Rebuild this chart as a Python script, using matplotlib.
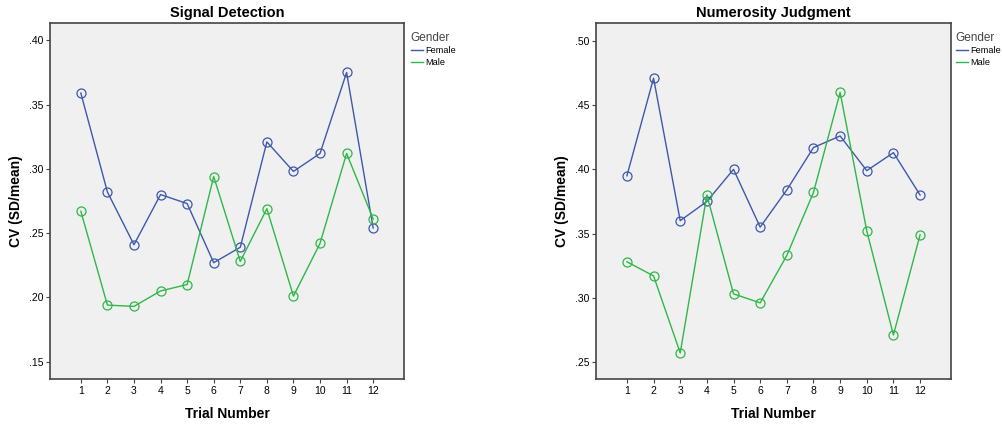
"""Coefficient of variation per trial, by gender, for two tasks."""

import matplotlib

matplotlib.use("Agg")
import matplotlib.pyplot as plt
from matplotlib.ticker import FuncFormatter

plt.rcParams["font.family"] = ["Liberation Sans", "DejaVu Sans"]

trials = list(range(1, 13))

signal_female = [0.359, 0.282, 0.241, 0.280, 0.273, 0.227, 0.239, 0.321, 0.298, 0.312, 0.375, 0.254]
signal_male = [0.267, 0.194, 0.193, 0.205, 0.210, 0.294, 0.228, 0.269, 0.201, 0.242, 0.312, 0.261]

numer_female = [0.395, 0.471, 0.360, 0.375, 0.400, 0.355, 0.384, 0.417, 0.426, 0.399, 0.413, 0.380]
numer_male = [0.328, 0.317, 0.257, 0.380, 0.303, 0.296, 0.333, 0.382, 0.460, 0.352, 0.271, 0.349]

BLUE = "#3e58ac"
GREEN = "#2eb848"
W, H = 1002, 425


def spss_fmt(v, _pos):
    return f"{v:.2f}".lstrip("0")


def panel(rect, title, female, male, yticks, ylim, legend_xy):
    ax = fig.add_axes(rect)
    ax.set_facecolor("#f0f0f0")
    for label, vals, color in [("Female", female, BLUE), ("Male", male, GREEN)]:
        ax.plot(trials, vals, color=color, lw=1.0, label=label)
        ax.plot(trials, vals, ls="none", marker="o", ms=6.5, mfc="none",
                mec=color, mew=0.9)
    ax.set_xlim(-0.16, 13.16)
    ax.set_ylim(*ylim)
    ax.set_xticks(trials)
    ax.set_yticks(yticks)
    ax.yaxis.set_major_formatter(FuncFormatter(spss_fmt))
    ax.tick_params(labelsize=7.5, length=3, width=0.8, color="#444444", pad=2)
    for s in ax.spines.values():
        s.set_color("#444444")
        s.set_linewidth(1.2)
    ax.set_title(title, fontsize=10.5, fontweight="bold", pad=4)
    ax.set_xlabel("Trial Number", fontsize=10, fontweight="bold", labelpad=8)
    ax.set_ylabel("CV (SD/mean)", fontsize=10, fontweight="bold", labelpad=4)
    leg = ax.legend(loc="upper left", bbox_to_anchor=legend_xy,
                    bbox_transform=fig.transFigure, frameon=False,
                    title="Gender", fontsize=6.6, title_fontsize=8.5,
                    handlelength=1.4, handletextpad=0.15, labelspacing=0.3,
                    borderpad=0, alignment="left")
    leg.get_title().set_color("#444444")
    return ax


fig = plt.figure(figsize=(W / 100, H / 100), dpi=100)

panel([50 / W, 46 / H, 354 / W, 356 / H], "Signal Detection",
      signal_female, signal_male, [0.15, 0.20, 0.25, 0.30, 0.35, 0.40],
      (0.1365, 0.4135), (406 / W, 1 - 27 / H))
panel([596 / W, 46 / H, 355 / W, 356 / H], "Numerosity Judgment",
      numer_female, numer_male, [0.25, 0.30, 0.35, 0.40, 0.45, 0.50],
      (0.2367, 0.514), (951 / W, 1 - 27 / H))

fig.savefig("out.png", dpi=100)
